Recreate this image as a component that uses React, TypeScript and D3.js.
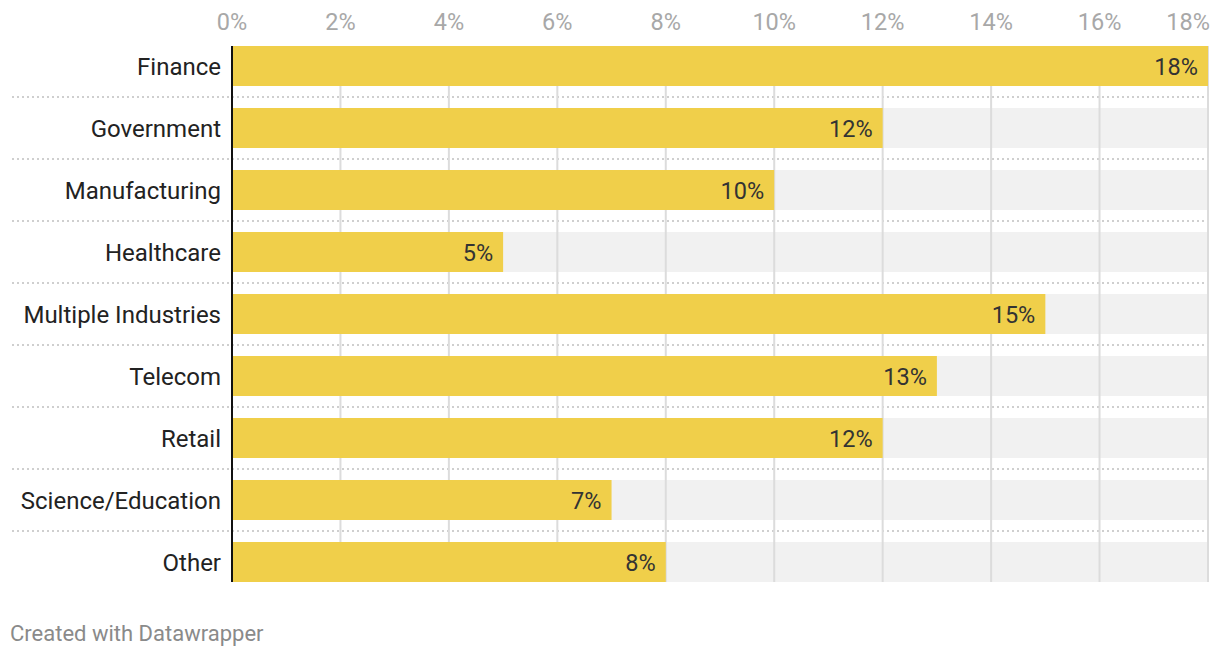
import React from "react";
import * as d3 from "d3";

const categories = ["Finance", "Government", "Manufacturing", "Healthcare", "Multiple Industries", "Telecom", "Retail", "Science/Education", "Other"];
const values = [18, 12, 10, 5, 15, 13, 12, 7, 8];
const ticks = [0, 2, 4, 6, 8, 10, 12, 14, 16, 18];

const W = 1220, H = 658;
const x0 = 232, x1 = 1208;
const top = 46, rowH = 62, barH = 40;

export default function App() {
  const x = d3.scaleLinear().domain([0, 18]).range([x0, x1]);
  const yb = (c: string) => top + categories.indexOf(c) * rowH;
  const font = "Roboto, sans-serif";
  const last = categories[categories.length - 1];
  return (
    <svg width={W} height={H} style={{ position: "absolute", left: 0, top: 0, background: "#fff" }}>
      {categories.map((c) => (
        <rect key={"bg" + c} x={x0} y={yb(c)} width={x1 - x0} height={barH} fill="#f1f1f1" />
      ))}
      {categories.slice(0, -1).map((c) => (
        <line key={"sep" + c} x1={12} x2={x1} y1={yb(c) + barH + 11} y2={yb(c) + barH + 11} stroke="#cfcfcf" strokeWidth={2} strokeDasharray="2,3" />
      ))}
      {ticks.slice(1).map((t) => (
        <line key={"g" + t} x1={x(t)} x2={x(t)} y1={top} y2={yb(last) + barH} stroke="#dcdcdc" strokeWidth={2} />
      ))}
      {ticks.map((t) => (
        <text key={"t" + t} x={t === 18 ? x(t) + 2 : x(t)} y={30} textAnchor={t === 18 ? "end" : "middle"} fontFamily={font} fontSize={23.5} fill="#a8a8a8">{t}%</text>
      ))}
      {categories.map((c, i) => (
        <g key={c}>
          <rect x={x0} y={yb(c)} width={x(values[i]) - x0} height={barH} fill="#f0cf4a" />
          <text x={x(values[i]) - 10} y={yb(c) + barH / 2 + 8.5} textAnchor="end" fontFamily={font} fontSize={23.5} fill="#333">{values[i]}%</text>
          <text x={221} y={yb(c) + barH / 2 + 8.5} textAnchor="end" fontFamily={font} fontSize={24} fill="#222">{c}</text>
        </g>
      ))}
      <line x1={x0} x2={x0} y1={top} y2={yb(last) + barH} stroke="#111" strokeWidth={2} />
      <text x={10} y={641} fontFamily={font} fontSize={22} fill="#8a8a8a">Created with Datawrapper</text>
    </svg>
  );
}
